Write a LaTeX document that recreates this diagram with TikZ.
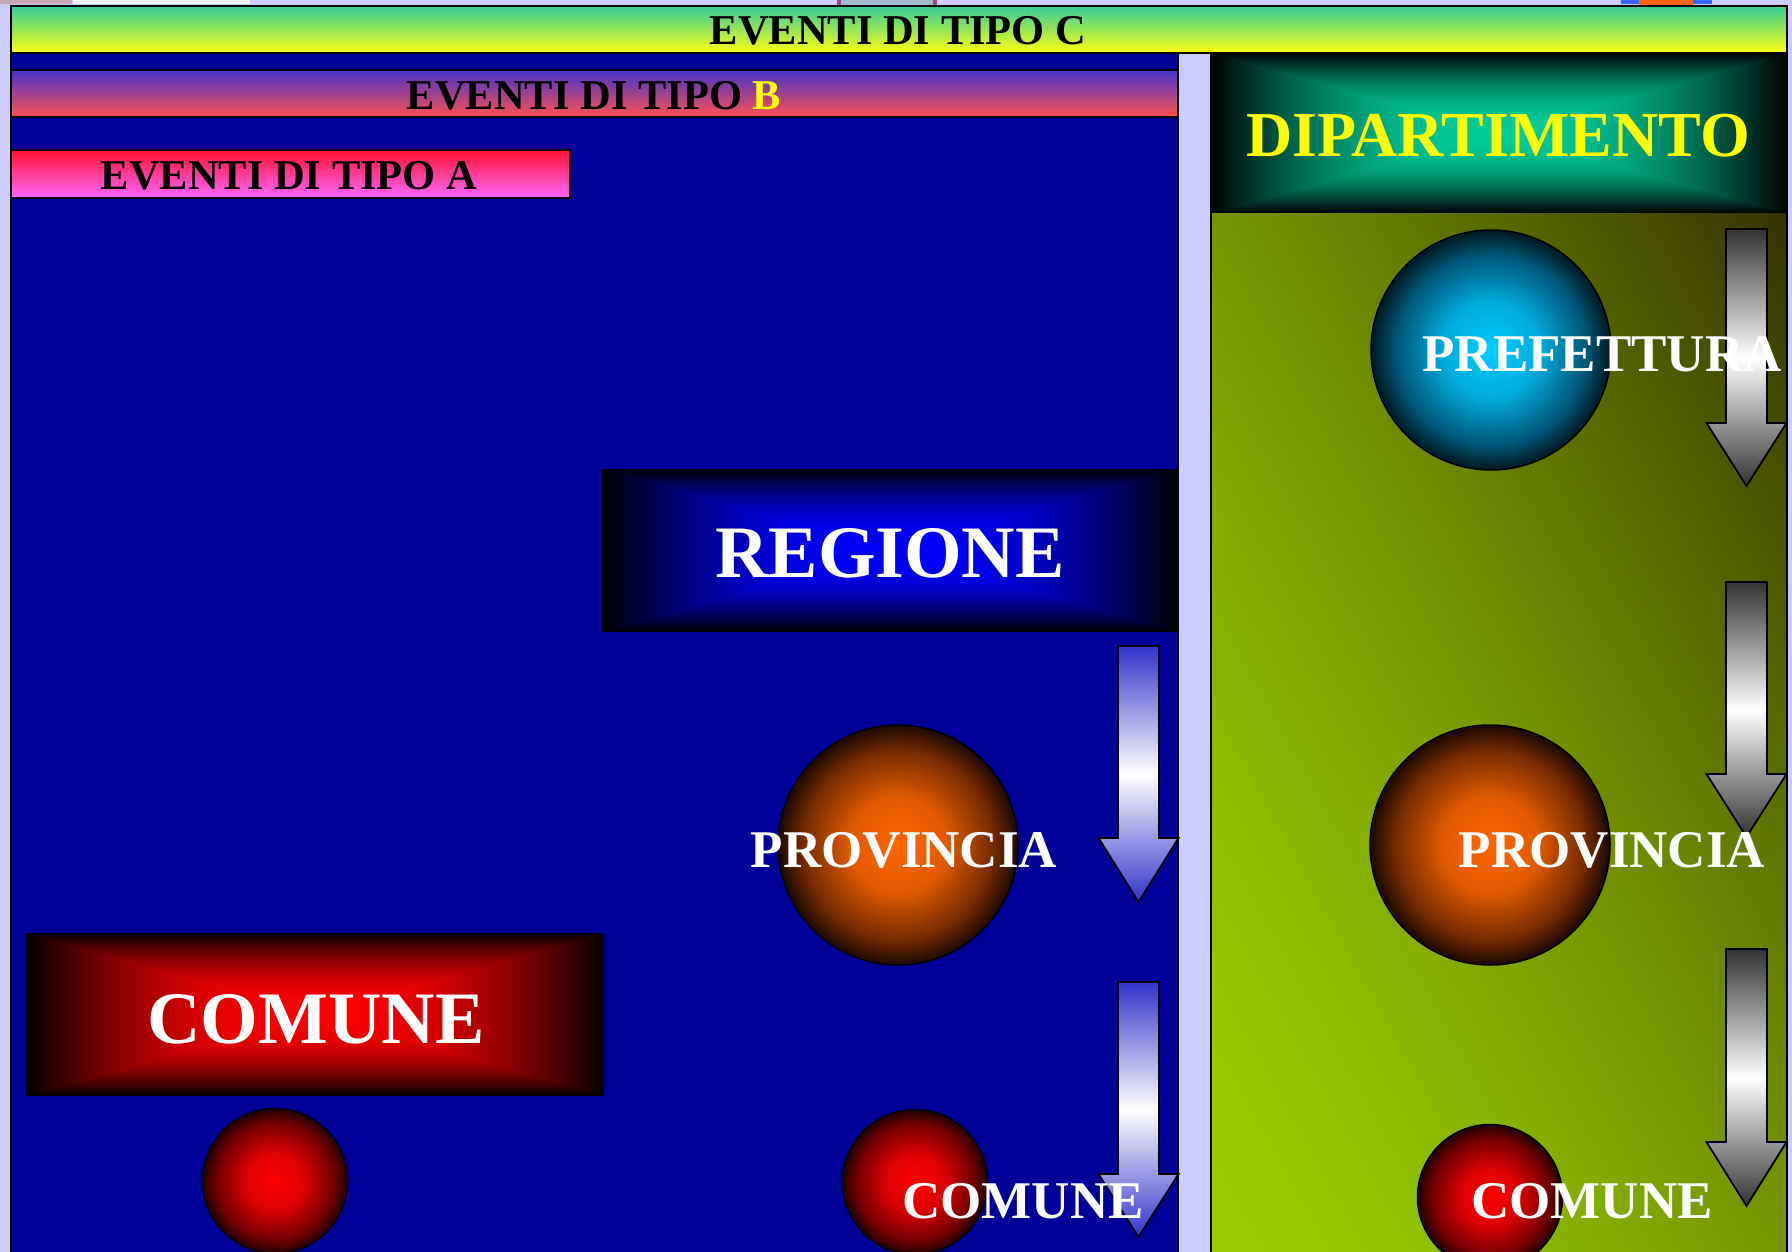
\documentclass[tikz,border=0pt]{standalone}
\usepackage{fontspec}
\setmainfont{Liberation Serif}
\usepackage{graphicx}

\definecolor{lav}{HTML}{CCCCFF}
\definecolor{navy}{HTML}{000099}
\definecolor{barCtop}{HTML}{33CC99}
\definecolor{barCmid}{HTML}{BBE870}
\definecolor{barCbot}{HTML}{FFFF11}
\definecolor{barBtop}{HTML}{4433CC}
\definecolor{barBbot}{HTML}{FF5050}
\definecolor{barAtop}{HTML}{FF1133}
\definecolor{barAbot}{HTML}{FF66FF}
\definecolor{arrB}{HTML}{3333CC}
\definecolor{arrG}{HTML}{333333}
\definecolor{yel}{HTML}{FFFF00}
\definecolor{orA}{HTML}{FF6600}
\definecolor{orB}{HTML}{E05A00}
\definecolor{orC}{HTML}{722900}
\definecolor{orD}{HTML}{1A0800}
\definecolor{cyA}{HTML}{00CCFF}
\definecolor{cyB}{HTML}{00ACDC}
\definecolor{cyC}{HTML}{005474}
\definecolor{cyD}{HTML}{001820}
\definecolor{rdA}{HTML}{FF0000}
\definecolor{rdB}{HTML}{DC0000}
\definecolor{rdC}{HTML}{760000}
\definecolor{rdD}{HTML}{200000}
\definecolor{topPink}{HTML}{C8A8B0}
\definecolor{topWhite}{HTML}{F4F4F4}
\definecolor{topBlueGray}{HTML}{A0B8D0}
\definecolor{topMagenta}{HTML}{B04080}
\definecolor{topBlue}{HTML}{3366FF}

\pgfdeclareradialshading{ballor}{\pgfpointorigin}{color(0bp)=(orA); color(10bp)=(orB); color(20bp)=(orC); color(25bp)=(orD); color(50bp)=(orD)}
\pgfdeclareradialshading{ballcy}{\pgfpointorigin}{color(0bp)=(cyA); color(10bp)=(cyB); color(20bp)=(cyC); color(25bp)=(cyD); color(50bp)=(cyD)}
\pgfdeclareradialshading{ballrd}{\pgfpointorigin}{color(0bp)=(rdA); color(10bp)=(rdB); color(20bp)=(rdC); color(25bp)=(rdD); color(50bp)=(rdD)}

\pgfdeclarefunctionalshading{glowteal}{\pgfpoint{-50bp}{-50bp}}{\pgfpoint{50bp}{50bp}}{}{
  abs exch abs 2 copy lt {exch} if pop 25 div
  dup 1 gt {pop 1} if
  dup mul 1 exch sub
  0 exch dup 0.8 mul exch 0.6 mul
}
\pgfdeclarefunctionalshading{glowblue}{\pgfpoint{-50bp}{-50bp}}{\pgfpoint{50bp}{50bp}}{}{
  abs exch abs 2 copy lt {exch} if pop 25 div
  dup 1 gt {pop 1} if
  dup mul 1 exch sub
  0 exch 0 exch
}
\pgfdeclarefunctionalshading{glowred}{\pgfpoint{-50bp}{-50bp}}{\pgfpoint{50bp}{50bp}}{}{
  abs exch abs 2 copy lt {exch} if pop 25 div
  dup 1 gt {pop 1} if
  dup mul 1 exch sub
  0 0
}
\pgfdeclarefunctionalshading{greendiag}{\pgfpoint{-50bp}{-50bp}}{\pgfpoint{50bp}{50bp}}{}{
  add 50 add 100 div
  dup 0 lt {pop 0} if dup 1 gt {pop 1} if
  dup sqrt mul
  dup -0.4 mul 0.6 add exch -0.6 mul 0.8 add 0
}

% block arrow pointing down: #1 style, #2 shaft left x, #3 shaft right x, #4 top y, #5 head start y, #6 tip y
\newcommand{\downblock}[6]{%
  \draw[#1] (#2,#4) -- (#3,#4) -- (#3,#5) -- ({#3+19.5},#5) -- ({(#2+#3)/2},#6)
    -- ({#2-19.5},#5) -- (#2,#5) -- cycle;}

\begin{document}
\begin{tikzpicture}[x=1pt,y=-1pt,
  framed/.style={draw=black,line width=2pt},
  ballline/.style={draw=black,line width=1.5pt},
  bluearrow/.style={draw=black,line width=1.8pt,top color=arrB,bottom color=arrB,middle color=white},
  grayarrow/.style={draw=black,line width=1.8pt,top color=arrG,bottom color=arrG,middle color=white},
  barlbl/.style={anchor=base,inner sep=0pt,text=black,font=\bfseries\fontsize{42.5}{48}\selectfont},
  biglbl/.style={anchor=base,inner sep=0pt,text=white,font=\bfseries\fontsize{74}{80}\selectfont},
  midlbl/.style={anchor=base,inner sep=0pt,text=white,font=\bfseries\fontsize{53}{60}\selectfont},
  ball/.style={circle,inner sep=0pt,ballline},
]
\useasboundingbox (0,0) rectangle (1792,1252);
\fill[lav] (0,0) rectangle (1792,1252);

% clipped items along the top edge
\fill[topPink] (0,0) rectangle (72,4);
\fill[topWhite] (73,0) rectangle (250,4);
\fill[topBlueGray] (837,0) rectangle (937,5);
\fill[topMagenta] (837,0) rectangle (841,5);
\fill[topMagenta] (933,0) rectangle (937,5);
\fill[topBlue] (1621,0) rectangle (1712,4);
\fill[orA] (1639,0) rectangle (1693,5);

% left blue panel
\fill[navy] (11,53) rectangle (1178,1253);
\draw[black,line width=2pt] (11,53) -- (11,1253);
\draw[black,line width=1.5pt] (1178,53) -- (1178,1253);

% right green panel
\shade[shading=greendiag] (1211,213) rectangle (1787,1253);
\draw[black,line width=2pt] (1211,53) -- (1211,1253);
\draw[black,line width=2pt] (1787,53) -- (1787,1253);

% bars
\shade[framed,top color=barCtop,middle color=barCmid,bottom color=barCbot] (11,6) rectangle (1787,53);
\shade[framed,top color=barBtop,bottom color=barBbot] (11,70) rectangle (1178,117);
\shade[framed,top color=barAtop,bottom color=barAbot] (11,150) rectangle (570,198);

% boxes
\node[shading=glowteal,minimum width=576pt,minimum height=160pt,inner sep=0pt] (dipbox) at (1499,133) {};
\node[shading=glowblue,minimum width=576pt,minimum height=162pt,inner sep=0pt] (regbox) at (890,550) {};
\node[shading=glowred,minimum width=578pt,minimum height=162pt,inner sep=0pt] (combox) at (315,1014) {};

% circles
\node[ball,shading=ballcy,minimum size=240pt] (prefball) at (1491,350) {};
\node[ball,shading=ballor,minimum size=240pt] (provballL) at (898,845) {};
\node[ball,shading=ballor,minimum size=240pt] (provballR) at (1490,845) {};
\node[ball,shading=ballrd,minimum size=145pt] (comballL) at (275,1181) {};
\node[ball,shading=ballrd,minimum size=145pt] (comballM) at (915,1182) {};
\node[ball,shading=ballrd,minimum size=145pt] (comballR) at (1490,1197) {};

% block arrows
\downblock{bluearrow}{1118}{1159}{646}{838}{902}
\downblock{bluearrow}{1118}{1159}{982}{1174}{1237}
\downblock{grayarrow}{1726}{1767}{229}{423}{486}
\downblock{grayarrow}{1726}{1767}{582}{774}{837}
\downblock{grayarrow}{1726}{1767}{949}{1142}{1206}

% labels
\node[barlbl] (lblC) at (898,45) {EVENTI DI TIPO C};
\node[barlbl] (lblB) at (594,110) {EVENTI DI TIPO \textcolor{yel}{B}};
\node[barlbl] (lblA) at (289,190) {EVENTI DI TIPO A};
\node[anchor=base,inner sep=0pt,text=yel,font=\bfseries\fontsize{64}{70}\selectfont] (lblDip) at (1498,157) {DIPARTIMENTO};
\node[biglbl] (lblReg) at (890,577) {REGIONE};
\node[biglbl] (lblCom) at (316,1043) {COMUNE};
\node[midlbl] (lblPref) at (1602,371) {PREFETTURA};
\node[midlbl] (lblProvL) at (904,867) {PROVINCIA};
\node[midlbl] (lblProvR) at (1612,867) {PROVINCIA};
\node[midlbl] (lblComM) at (1023,1218) {COMUNE};
\node[midlbl] (lblComR) at (1592,1218) {COMUNE};
\end{tikzpicture}
\end{document}
